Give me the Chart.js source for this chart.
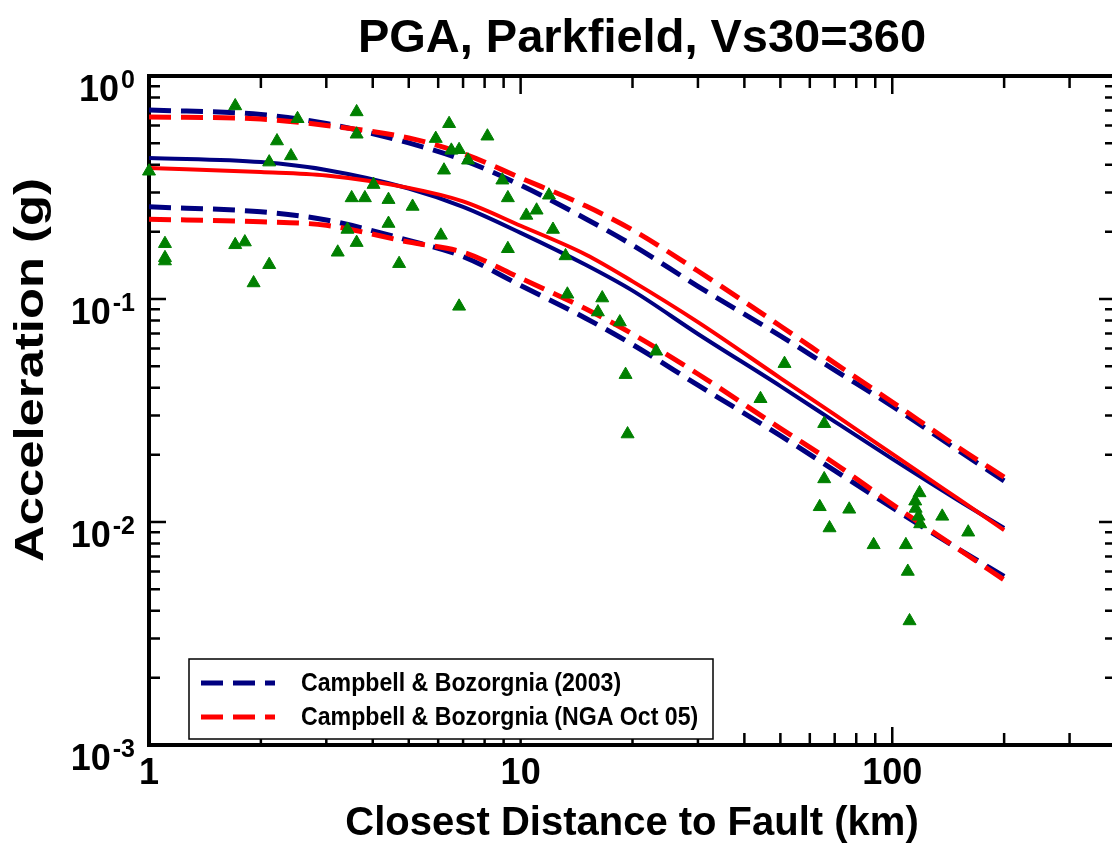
<!DOCTYPE html>
<html>
<head>
<meta charset="utf-8">
<script src="https://cdn.jsdelivr.net/npm/chart.js@4.4.1/dist/chart.umd.min.js"></script>
<style>
    html, body { margin: 0; padding: 0; background: #fff; overflow: hidden; }
    #wrap { width: 1125px; height: 848px; }
</style>
</head>
<body>
<div id="wrap"><canvas id="pga" width="1125" height="848"></canvas></div>
<script>
// model curves (distance in km, PGA in g)
const distances = [1, 2, 3, 5, 7, 10, 15, 20, 30, 50, 70, 100, 150, 200];
const cb03Upper  = [0.704, 0.672, 0.612, 0.501, 0.420, 0.324, 0.2285, 0.1745, 0.114, 0.0683, 0.0480, 0.0331, 0.0210, 0.0153];
const cb03Median = [0.429, 0.411, 0.379, 0.313, 0.259, 0.198, 0.142, 0.109, 0.0697, 0.0407, 0.0282, 0.0192, 0.01255, 0.0094];
const cb03Lower  = [0.259, 0.246, 0.226, 0.183, 0.155, 0.115, 0.0818, 0.0625, 0.0411, 0.0244, 0.0170, 0.0116, 0.0076, 0.0057];
const ngaUpper   = [0.655, 0.641, 0.600, 0.527, 0.449, 0.349, 0.261, 0.204, 0.1335, 0.0757, 0.0516, 0.0345, 0.0217, 0.0159];
const ngaMedian  = [0.387, 0.371, 0.358, 0.315, 0.274, 0.213, 0.158, 0.120, 0.0788, 0.0442, 0.0303, 0.0202, 0.01275, 0.0092];
const ngaLower   = [0.228, 0.222, 0.214, 0.180, 0.162, 0.124, 0.0902, 0.0697, 0.0461, 0.0263, 0.0183, 0.0120, 0.0076, 0.0055];

// recorded PGA at Parkfield stations
const obsDistance = [1.706, 2.51, 3.62, 2.21, 2.41, 2.106, 1.00, 3.62, 5.91, 4.02, 3.51, 3.81, 4.41, 5.12, 6.22, 4.41, 3.42, 6.10,
    1.104, 1.706, 1.811, 3.62, 1.104, 1.104, 3.22, 2.106, 4.71, 1.912, 6.42, 8.14, 6.51, 6.83, 7.22, 8.93, 9.24, 11.92, 11.04,
    10.36, 12.22, 9.24, 13.21, 6.83, 13.36, 16.58, 16.14, 18.49, 23.16, 19.16, 19.4, 51.3, 44.2, 65.6, 65.6, 63.8, 76.6, 67.8,
    89.1, 108.8, 110.1, 111.3, 118.4, 115.3, 115.6, 117.7, 118.9, 136.3, 160.1];
const obsPga = [0.734, 0.643, 0.690, 0.511, 0.438, 0.411, 0.374, 0.548, 0.524, 0.326, 0.284, 0.284, 0.279, 0.260, 0.378, 0.218, 0.205, 0.193,
    0.177, 0.175, 0.180, 0.179, 0.153, 0.148, 0.162, 0.1425, 0.144, 0.118, 0.611, 0.537, 0.464, 0.467, 0.419, 0.341, 0.284, 0.292, 0.250,
    0.237, 0.205, 0.168, 0.156, 0.0927, 0.105, 0.101, 0.0874, 0.0788, 0.0583, 0.0458, 0.0248, 0.0513, 0.0357, 0.0276, 0.0156, 0.0117, 0.0114, 0.0094,
    0.0079, 0.0079, 0.0060, 0.0036, 0.0135, 0.0124, 0.0115, 0.0106, 0.0098, 0.0106, 0.0090];

const xTickLabels = ['1', '10', '100'];
const yTickExponents = ['0', '-1', '-2', '-3'];
const legendNames = ['Campbell & Bozorgnia (2003)', 'Campbell & Bozorgnia (NGA Oct 05)'];

const NAVY = '#000080';
const RED = '#ff0000';
const GREEN = '#008000';
const FONT = '"Liberation Sans", Arial, sans-serif';
const DASH = [22, 10];

const toPts = ys => distances.map((d, i) => ({ x: d, y: ys[i] }));

function curve(ys, color, dashed) {
    return {
        data: toPts(ys),
        showLine: true,
        borderColor: color,
        borderWidth: dashed ? 5 : 4,
        borderDash: dashed ? DASH : [],
        pointRadius: 0,
        cubicInterpolationMode: 'monotone',
        fill: false
    };
}

// text squeezed or stretched along its baseline
function stretchText(ctx, text, x, y, sx) {
    ctx.save();
    ctx.translate(x, y);
    ctx.scale(sx, 1);
    ctx.fillText(text, 0, 0);
    ctx.restore();
}

function noPadding(s) {
    s.paddingLeft = 0; s.paddingRight = 0;
    s.paddingTop = 0; s.paddingBottom = 0;
}

const frame = {
    id: 'frame',
    beforeDatasetsDraw(chart) {
        const { ctx, chartArea: a, scales: { x, y } } = chart;
        ctx.save();
        ctx.strokeStyle = '#000';
        ctx.lineWidth = 2.5;
        ctx.beginPath();
        for (let d = 1; d <= 100; d *= 10) {
            for (let m = 1; m <= 9; m++) {
                const v = d * m;
                if (v > x.max) continue;
                const px = x.getPixelForValue(v);
                const len = m === 1 ? 18 : 12;
                ctx.moveTo(px, a.bottom); ctx.lineTo(px, a.bottom - len);
                ctx.moveTo(px, a.top); ctx.lineTo(px, a.top + len);
            }
        }
        for (let d = 0.001; d <= 1; d *= 10) {
            for (let m = 1; m <= 9; m++) {
                const v = d * m;
                if (v > y.max * 1.0001) continue;
                const py = y.getPixelForValue(v);
                const len = m === 1 ? 17 : 11;
                ctx.moveTo(a.left, py); ctx.lineTo(a.left + len, py);
                ctx.moveTo(a.right, py); ctx.lineTo(a.right - len, py);
            }
        }
        ctx.stroke();
        ctx.lineWidth = 4;
        ctx.strokeRect(a.left, a.top, a.right - a.left, a.bottom - a.top);

        // tick labels
        ctx.fillStyle = '#000';
        ctx.textBaseline = 'alphabetic';
        ctx.textAlign = 'center';
        ctx.font = 'bold 36px ' + FONT;
        xTickLabels.forEach(t => ctx.fillText(t, x.getPixelForValue(Number(t)), a.bottom + 39));
        ctx.textAlign = 'right';
        yTickExponents.forEach(e => {
            const py = y.getPixelForValue(Math.pow(10, Number(e)));
            ctx.font = 'bold 25px ' + FONT;
            const ew = ctx.measureText(e).width;
            ctx.fillText(e, a.left - 14, py + 12);
            ctx.font = 'bold 36px ' + FONT;
            ctx.fillText('10', a.left - 16 - ew, py + 25);
        });

        // titles
        ctx.textAlign = 'center';
        ctx.font = 'bold 47px ' + FONT;
        ctx.fillText('PGA, Parkfield, Vs30=360', 642, 52);
        ctx.font = 'bold 40px ' + FONT;
        ctx.fillText('Closest Distance to Fault (km)', 632, 835);
        ctx.save();
        ctx.translate(43, 370);
        ctx.rotate(-Math.PI / 2);
        stretchText(ctx, 'Acceleration (g)', 0, 0, 1.27);
        ctx.restore();
        ctx.restore();
    },
    afterDraw(chart) {
        const { ctx } = chart;
        ctx.save();
        ctx.fillStyle = '#fff';
        ctx.fillRect(189, 659, 524, 80);
        ctx.strokeStyle = '#000';
        ctx.lineWidth = 1.5;
        ctx.strokeRect(189, 659, 524, 80);
        const colors = [NAVY, RED];
        legendNames.forEach((name, i) => {
            const ly = 683 + i * 34;
            ctx.strokeStyle = colors[i];
            ctx.lineWidth = 5;
            ctx.setLineDash(DASH);
            ctx.beginPath();
            ctx.moveTo(201, ly); ctx.lineTo(275, ly);
            ctx.stroke();
            ctx.setLineDash([]);
            ctx.fillStyle = '#000';
            ctx.font = 'bold 26px ' + FONT;
            ctx.textAlign = 'left';
            ctx.textBaseline = 'middle';
            stretchText(ctx, name, 301, ly + 1, 0.89);
        });
        ctx.restore();
    }
};

new Chart(document.getElementById('pga'), {
    type: 'scatter',
    data: {
        datasets: [
            {
                data: obsDistance.map((d, i) => ({ x: d, y: obsPga[i] })),
                pointStyle: 'triangle',
                pointRadius: 7.5,
                pointBackgroundColor: GREEN,
                pointBorderColor: GREEN,
                pointBorderWidth: 1,
                showLine: false,
                clip: false
            },
            curve(ngaUpper, RED, true),
            curve(ngaMedian, RED, false),
            curve(ngaLower, RED, true),
            curve(cb03Upper, NAVY, true),
            curve(cb03Median, NAVY, false),
            curve(cb03Lower, NAVY, true)
        ]
    },
    options: {
        responsive: false,
        animation: false,
        devicePixelRatio: 1,
        layout: { padding: { left: 149, top: 76, right: 9, bottom: 103 } },
        scales: {
            x: {
                type: 'logarithmic', min: 1, max: 400,
                ticks: { display: false },
                grid: { display: false, drawTicks: false },
                border: { display: false },
                afterFit: s => { s.height = 0; noPadding(s); }
            },
            y: {
                type: 'logarithmic', min: 0.001, max: 1,
                ticks: { display: false },
                grid: { display: false, drawTicks: false },
                border: { display: false },
                afterFit: s => { s.width = 0; noPadding(s); }
            }
        },
        plugins: {
            legend: { display: false },
            tooltip: { enabled: false },
            title: { display: false }
        }
    },
    plugins: [frame]
});
</script>
</body>
</html>
